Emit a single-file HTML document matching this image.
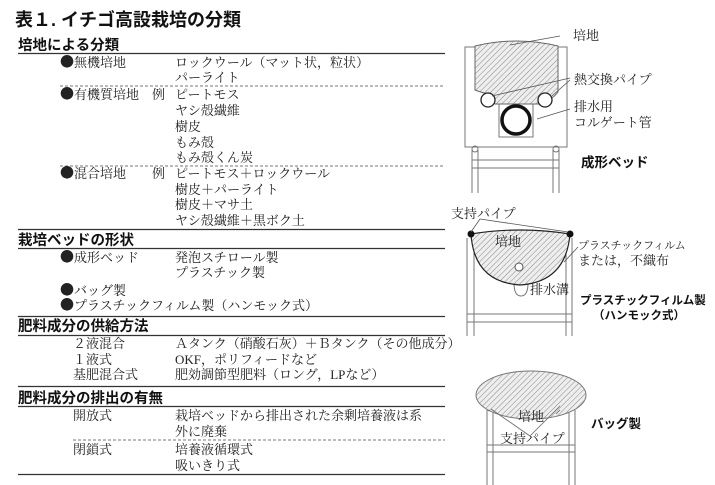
<!DOCTYPE html>
<html><head><meta charset="utf-8"><style>
html,body{margin:0;padding:0;background:#fff;}
svg{display:block;}
text{font-family:"Liberation Serif","Noto Serif CJK SC","Noto Sans CJK JP",serif;font-size:13px;fill:#222;}
.h{font-family:"Liberation Sans","Noto Sans CJK JP",sans-serif;font-size:14.5px;font-weight:bold;fill:#111;}
.t{font-family:"Liberation Sans","Noto Sans CJK JP",sans-serif;font-size:18px;font-weight:bold;fill:#111;}
.b{font-family:"Liberation Sans","Noto Sans CJK JP",sans-serif;font-size:13.5px;font-weight:bold;fill:#111;}
.s{font-size:11px;}
.d{font-family:"Noto Sans CJK JP",sans-serif;font-size:14px;}
</style></head><body>
<svg width="715" height="485" viewBox="0 0 715 485" xmlns="http://www.w3.org/2000/svg">
<defs>
<pattern id="hat" width="4" height="4" patternUnits="userSpaceOnUse" patternTransform="rotate(45)">
<rect width="4" height="4" fill="#eee"/><line x1="0" y1="0" x2="0" y2="4" stroke="#888" stroke-width="1"/>
</pattern>
</defs>
<text class="t" x="15" y="26">表１. イチゴ高設栽培の分類</text>

<text class="h" x="18" y="50">培地による分類</text>
<line x1="18" y1="53.5" x2="445" y2="53.5" stroke="#333" stroke-width="1.3"/>
<text x="60" y="67"><tspan class="d">●</tspan>無機培地</text><text x="175" y="67">ロックウール（マット状，粒状）</text>
<text x="175" y="82">パーライト</text>
<line x1="60" y1="86" x2="445" y2="86" stroke="#777" stroke-dasharray="3,2"/>
<text x="60" y="99"><tspan class="d">●</tspan>有機質培地　例</text><text x="175" y="99">ピートモス</text>
<text x="175" y="115">ヤシ殻繊維</text>
<text x="175" y="131">樹皮</text>
<text x="175" y="147">もみ殻</text>
<text x="175" y="162">もみ殻くん炭</text>
<line x1="60" y1="166" x2="445" y2="166" stroke="#777" stroke-dasharray="3,2"/>
<text x="60" y="178"><tspan class="d">●</tspan>混合培地　　例</text><text x="175" y="178">ピートモス＋ロックウール</text>
<text x="175" y="194">樹皮＋パーライト</text>
<text x="175" y="209">樹皮＋マサ土</text>
<text x="175" y="225">ヤシ殻繊維＋黒ボク土</text>
<line x1="18" y1="229.5" x2="445" y2="229.5" stroke="#333" stroke-width="1.3"/>

<text class="h" x="18" y="245">栽培ベッドの形状</text>
<line x1="18" y1="248.5" x2="445" y2="248.5" stroke="#333" stroke-width="1.3"/>
<text x="60" y="262"><tspan class="d">●</tspan>成形ベッド</text><text x="175" y="262">発泡スチロール製</text>
<text x="175" y="277">プラスチック製</text>
<text x="60" y="295"><tspan class="d">●</tspan>バッグ製</text>
<text x="60" y="310"><tspan class="d">●</tspan>プラスチックフィルム製（ハンモック式）</text>
<line x1="18" y1="316.5" x2="445" y2="316.5" stroke="#333" stroke-width="1.3"/>

<text class="h" x="18" y="331">肥料成分の供給方法</text>
<line x1="18" y1="335.5" x2="445" y2="335.5" stroke="#333" stroke-width="1.3"/>
<text x="73" y="348">２液混合</text><text x="175" y="348">Ａタンク（硝酸石灰）＋Ｂタンク（その他成分）</text>
<text x="73" y="364">１液式</text><text x="175" y="364">OKF，ポリフィードなど</text>
<text x="73" y="379">基肥混合式</text><text x="175" y="379">肥効調節型肥料（ロング，LPなど）</text>
<line x1="18" y1="386.5" x2="445" y2="386.5" stroke="#333" stroke-width="1.3"/>

<text class="h" x="18" y="403">肥料成分の排出の有無</text>
<line x1="18" y1="406.5" x2="445" y2="406.5" stroke="#333" stroke-width="1.3"/>
<text x="73" y="420">開放式</text><text x="175" y="420">栽培ベッドから排出された余剰培養液は系</text>
<text x="175" y="436">外に廃棄</text>
<line x1="73" y1="440" x2="445" y2="440" stroke="#777" stroke-dasharray="3,2"/>
<text x="73" y="454">閉鎖式</text><text x="175" y="454">培養液循環式</text>
<text x="175" y="470">吸いきり式</text>
<line x1="18" y1="474.5" x2="445" y2="474.5" stroke="#333" stroke-width="1.3"/>

<!-- 成形ベッド -->
<g stroke="#777" fill="none" stroke-width="1">
<rect x="465" y="47" width="102" height="100"/>
<line x1="472" y1="150" x2="472" y2="193"/><line x1="478" y1="150" x2="478" y2="193"/>
<line x1="553" y1="150" x2="553" y2="193"/><line x1="559" y1="150" x2="559" y2="193"/>
<circle cx="475" cy="149" r="3"/><circle cx="556" cy="149" r="3"/>
<line x1="472" y1="160" x2="559" y2="160"/><line x1="472" y1="168" x2="559" y2="168"/>
<rect x="499" y="104" width="34" height="33"/>
</g>
<path d="M475,46 Q516,36 558,46 L558,92 Q552,100 545,100 L540,104 L495,104 L488,94 Q480,92 475,90 Z" fill="url(#hat)" stroke="#666"/>
<circle cx="488" cy="100" r="7" fill="#fff" stroke="#222" stroke-width="1.3"/>
<circle cx="545" cy="100" r="7" fill="#fff" stroke="#222" stroke-width="1.3"/>
<circle cx="516" cy="120" r="14" fill="none" stroke="#111" stroke-width="3.5"/>
<g stroke="#555" stroke-width="0.8">
<line x1="510" y1="45" x2="560" y2="36"/>
<line x1="492" y1="96" x2="570" y2="78"/><line x1="552" y1="96" x2="570" y2="80"/>
<line x1="537" y1="119" x2="570" y2="109"/>
</g>
<text x="573" y="40">培地</text>
<text x="574" y="84">熱交換パイプ</text>
<text x="574" y="111">排水用</text>
<text x="574" y="127">コルゲート管</text>
<text class="b" x="581" y="167">成形ベッド</text>

<!-- ハンモック -->
<g stroke="#777" fill="none">
<line x1="467" y1="238" x2="467" y2="336"/><line x1="474" y1="240" x2="474" y2="336"/>
<line x1="566" y1="240" x2="566" y2="336"/><line x1="572" y1="238" x2="572" y2="336"/>
<line x1="467" y1="314" x2="572" y2="314"/><line x1="467" y1="322" x2="572" y2="322"/>
<path d="M514,283 Q514,296 521,296 Q528,296 528,283" fill="#fff"/>
</g>
<path d="M471,234 Q520,226 570,234 Q566,282 520,285 Q474,282 471,234 Z" fill="url(#hat)" stroke="#222" stroke-width="1.2"/>
<circle cx="519" cy="267" r="4" fill="#fff" stroke="#555"/>
<circle cx="471" cy="234" r="3.5" fill="#111"/><circle cx="570" cy="234" r="3.5" fill="#111"/>
<g stroke="#555" stroke-width="0.8"><line x1="480" y1="219" x2="471" y2="232"/><line x1="480" y1="219" x2="568" y2="232"/><line x1="564" y1="262" x2="578" y2="247"/></g>
<text x="451" y="218">支持パイプ</text>
<text x="495" y="246">培地</text>
<text class="s" x="578" y="249">プラスチックフィルム</text>
<text x="578" y="265">または，不織布</text>
<text x="530" y="294">排水溝</text>
<text class="b" x="580" y="304" style="font-size:11.5px">プラスチックフィルム製</text>
<text class="b" x="593" y="319" style="font-size:11.5px">（ハンモック式）</text>

<!-- バッグ -->
<g stroke="#777" fill="none">
<line x1="487" y1="410" x2="487" y2="485"/><line x1="493" y1="410" x2="493" y2="485"/>
<line x1="569" y1="410" x2="569" y2="485"/><line x1="575" y1="410" x2="575" y2="485"/>
<line x1="487" y1="445" x2="575" y2="445"/><line x1="487" y1="452" x2="575" y2="452"/>
<circle cx="490" cy="408" r="3"/><circle cx="570" cy="408" r="3"/>
</g>
<ellipse cx="531" cy="395" rx="55" ry="24" fill="url(#hat)" stroke="#777"/>
<g stroke="#666" stroke-width="0.8"><line x1="491" y1="409" x2="530" y2="436"/><line x1="560" y1="406" x2="530" y2="436"/><line x1="556" y1="414" x2="560" y2="410"/></g>
<text x="518" y="421">培地</text>
<text x="500" y="443">支持パイプ</text>
<text class="b" x="591" y="428" style="font-size:12.5px">バッグ製</text>
</svg>
</body></html>
